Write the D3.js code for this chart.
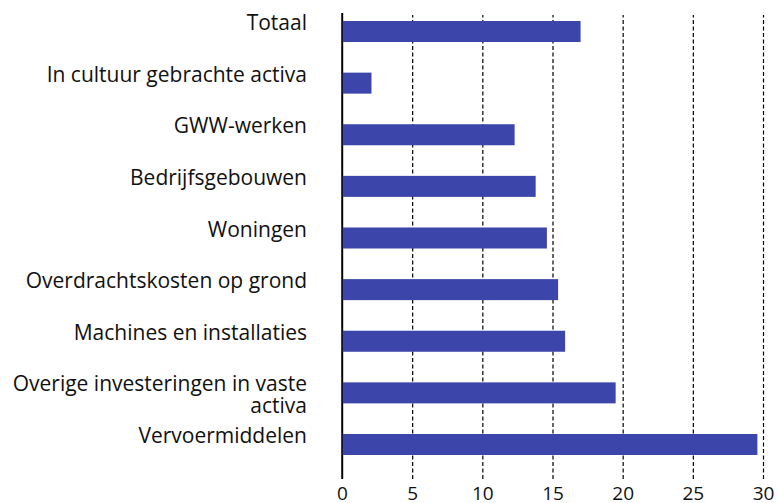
<!DOCTYPE html>
<html>
<head>
<meta charset="utf-8">
<script src="https://cdn.jsdelivr.net/npm/d3@7"></script>
<style>
  body { margin: 0; background: #fff; }
  text { font-family: "Open Sans", "Noto Sans", sans-serif; fill: #111; }
</style>
</head>
<body>
<div id="chart"></div>
<script>
// data
var categories = ['Totaal', 'In cultuur gebrachte activa', 'GWW-werken', 'Bedrijfsgebouwen',
  'Woningen', 'Overdrachtskosten op grond', 'Machines en installaties',
  'Overige investeringen in vaste activa', 'Vervoermiddelen'];
var values = [17.0, 2.1, 12.3, 13.8, 14.6, 15.4, 15.9, 19.5, 29.6];
var tickValues = [0, 5, 10, 15, 20, 25, 30];

// 畫布
const width = 778, height = 503;
const plot = {left: 342, right: 763, top: 13, bottom: 479};

var svg = d3.select('#chart').append('svg')
  .attr('width', width)
  .attr('height', height);

var x = d3.scaleLinear()
  .domain([0, 30])
  .range([plot.left, plot.right]);
var y = d3.scaleBand()
  .domain(categories)
  .range([21, 455])
  .paddingInner(0.593)
  .paddingOuter(0);

var rows = categories.map((c, i) => ({name: c, value: values[i]}));

// x軸 + 格線
var xAxis = d3.axisBottom(x)
  .tickValues(tickValues)
  .tickSize(-(plot.bottom - plot.top))
  .tickPadding(8)
  .tickFormat(d3.format('d'));

var gx = svg.append('g')
  .attr('transform', `translate(0, ${plot.bottom})`)
  .call(xAxis);
gx.select('.domain').remove();
gx.selectAll('.tick line')
  .attr('stroke', '#000')
  .attr('stroke-width', d => d == 0 ? 1.4 : 1.2)
  .attr('y2', d => d == 0 ? -(plot.bottom - plot.top) : -(plot.bottom - plot.top - 2))
  .attr('stroke-dasharray', d => d == 0 ? null : '4,2.5');
gx.selectAll('.tick text')
  .style('font-size', '19px')
  .attr('fill', '#111');

// bars
svg.selectAll('rect.bar')
  .data(rows)
  .enter()
  .append('rect')
  .attr('class', 'bar')
  .attr('x', x(0))
  .attr('y', d => y(d.name))
  .attr('width', d => x(d.value) - x(0))
  .attr('height', y.bandwidth())
  .attr('fill', '#3c45a9');

// 重畫0線在bar上面
svg.append('line')
  .attr('x1', x(0)).attr('x2', x(0))
  .attr('y1', plot.top).attr('y2', plot.bottom)
  .attr('stroke', '#000')
  .attr('stroke-width', 1.4);

// labels (長的拆兩行)
var labelX = 307;
var labels = svg.selectAll('text.label')
  .data(rows)
  .enter()
  .append('text')
  .attr('class', 'label')
  .attr('text-anchor', 'end')
  .style('font-size', '21px')
  .attr('x', labelX)
  .attr('y', d => y(d.name) + y.bandwidth() / 2 - 1.5);

labels.each(function(d) {
  var t = d3.select(this);
  if (d.name == 'Overige investeringen in vaste activa') {
    t.append('tspan').attr('x', labelX).attr('dy', 0).text('Overige investeringen in vaste');
    t.append('tspan').attr('x', labelX).attr('dy', 21.5).text('activa');
  } else {
    t.text(d.name);
  }
});
</script>
</body>
</html>
